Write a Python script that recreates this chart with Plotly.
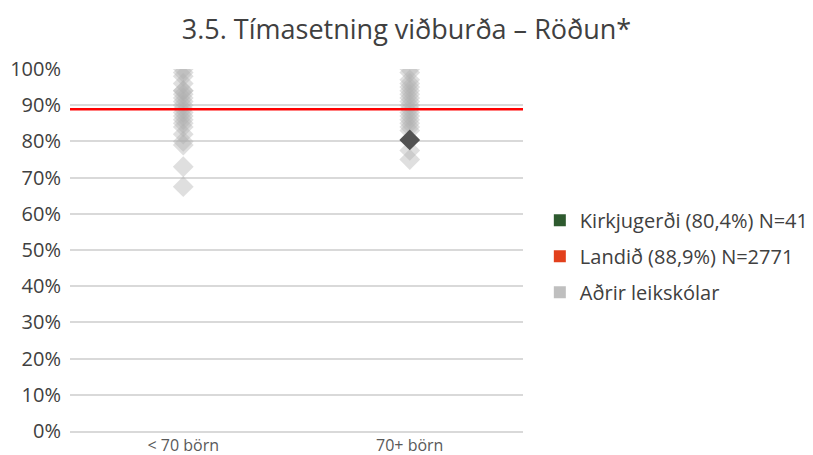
import plotly.graph_objects as go

# Category groups on the x axis
categories = ["< 70 börn", "70+ börn"]

# Share (%) for the other preschools in each size group
others_small = [100, 99, 98, 96, 94, 94, 93, 92, 91, 90, 89, 88, 87, 86, 85, 84, 82, 80, 79, 73, 67.5]
others_large = [100, 99, 97, 96, 95, 94, 93, 92, 91, 90, 89, 88, 87, 86, 85, 84, 83, 77.5, 75]

# Highlighted preschool and national average
school_name = "Kirkjugerði"
school_group = "70+ börn"
school_value = 80.4
school_n = 41
national_value = 88.9
national_n = 2771

y_ticks = [0, 10, 20, 30, 40, 50, 60, 70, 80, 90, 100]

FONT = "'Open Sans', Lato, sans-serif"

fig = go.Figure()

# Other preschools
xs = [categories[0]] * len(others_small) + [categories[1]] * len(others_large)
ys = others_small + others_large
fig.add_trace(go.Scatter(
    x=xs, y=ys, mode="markers", showlegend=False, hoverinfo="skip",
    marker=dict(symbol="diamond", size=16, color="rgba(175,175,175,0.40)", line=dict(width=0)),
))

# National average line
fig.add_shape(type="line", xref="paper", x0=0, x1=1, yref="y", y0=national_value, y1=national_value,
              line=dict(color="#ff0000", width=2.5), layer="above")

# Highlighted preschool
fig.add_trace(go.Scatter(
    x=[school_group], y=[school_value], mode="markers", showlegend=False,
    marker=dict(symbol="diamond", size=16, color="#525252", line=dict(width=0)),
))

# Legend entries
legend_items = [
    (f"{school_name} ({str(school_value).replace('.', ',')}%) N={school_n}", "#2e5a2f"),
    (f"Landið ({str(national_value).replace('.', ',')}%) N={national_n}", "#e2401c"),
    ("Aðrir leikskólar", "#bfbfbf"),
]
for i, (name, col) in enumerate(legend_items):
    fig.add_trace(go.Scatter(
        x=[None], y=[None], mode="markers", name=name, legendgroup=str(i),
        marker=dict(symbol="square", size=15, color=col),
    ))

fig.update_layout(
    width=813, height=455,
    margin=dict(l=70, r=290, t=69, b=24),
    paper_bgcolor="white", plot_bgcolor="white",
    font=dict(family=FONT, color="#404040"),
    title=dict(text="3.5. Tímasetning viðburða – Röðun*", x=0.5, xanchor="center",
               y=0.935, yanchor="middle", font=dict(size=27, color="#404040")),
    showlegend=True,
    legend=dict(xref="container", yref="container", x=0.664, xanchor="left",
                y=0.559, yanchor="top",
                font=dict(size=20, color="#404040"), tracegroupgap=7,
                itemsizing="constant", bgcolor="rgba(0,0,0,0)", borderwidth=0),
    xaxis=dict(type="category", categoryorder="array", categoryarray=categories,
               range=[-0.5, 1.5], showgrid=False, showline=True, linecolor="#d9d9d9",
               linewidth=1.5, ticks="", tickfont=dict(size=16, color="#595959"),
               ticklabelstandoff=-1, automargin=False, fixedrange=True),
    yaxis=dict(range=[0, 100], tickvals=y_ticks, ticktext=[f"{v}%" for v in y_ticks],
               showgrid=True, gridcolor="#d9d9d9", gridwidth=1.5, zeroline=False,
               showline=False, ticks="", ticklen=0, automargin=False, ticklabelstandoff=8,
               tickfont=dict(size=20, color="#404040"), fixedrange=True),
)

fig.write_html("out.html")
